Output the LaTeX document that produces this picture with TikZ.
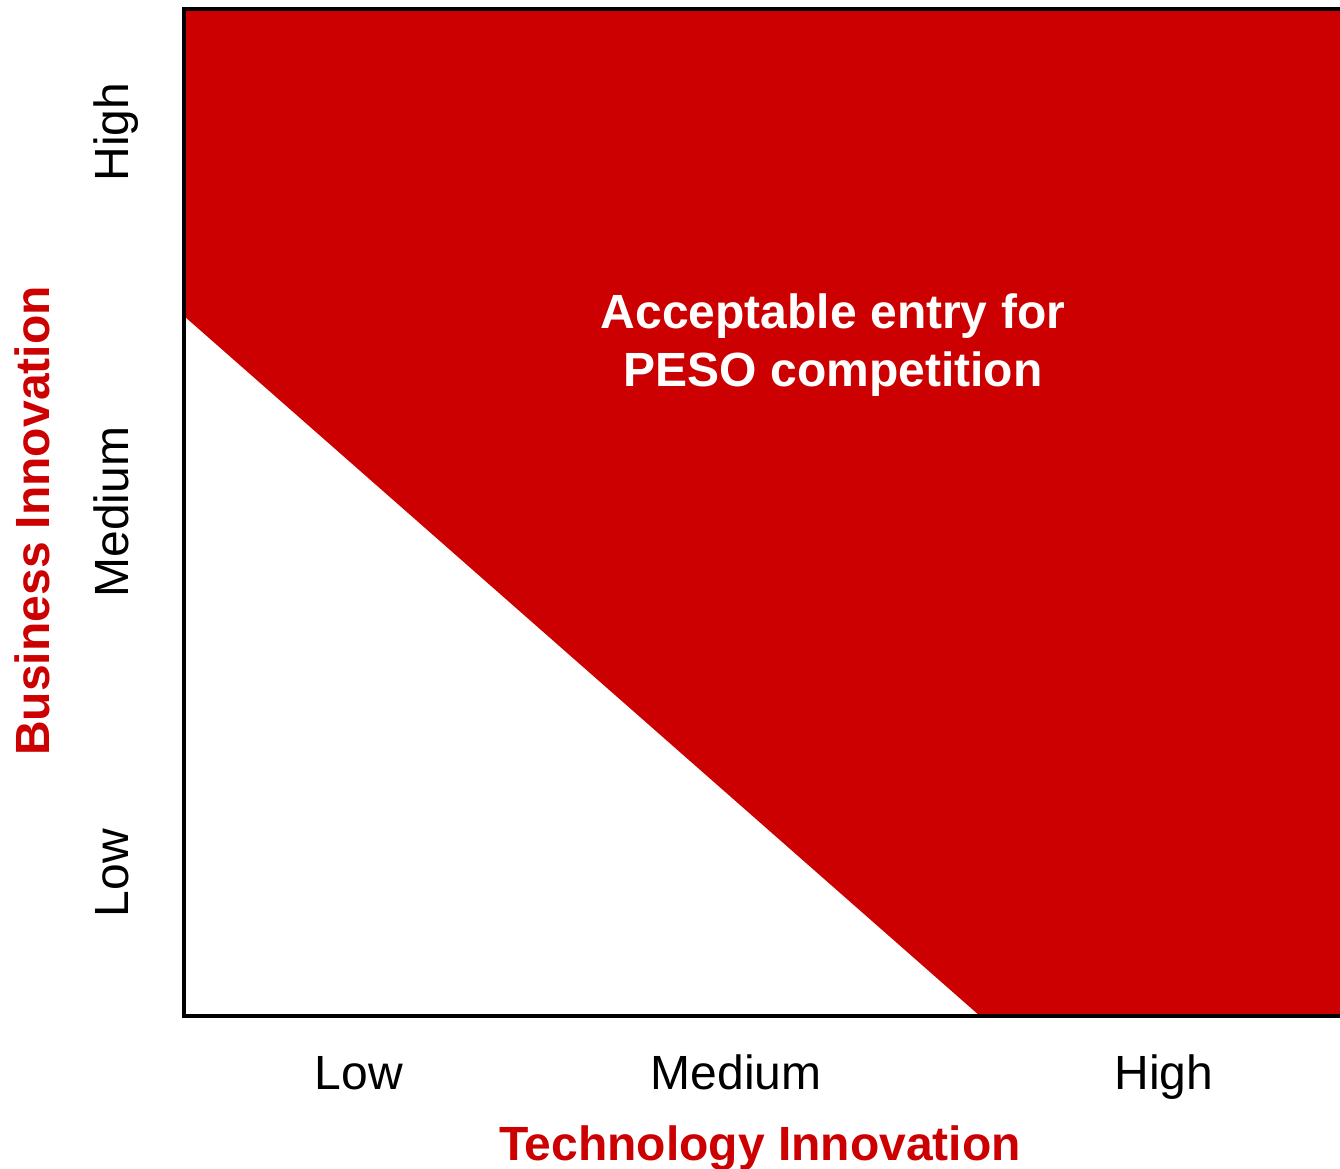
\documentclass[tikz,border=0pt]{standalone}
\usepackage{fontspec}
\setmainfont{Liberation Sans}
\definecolor{pesored}{HTML}{CC0000}
\begin{document}
\begin{tikzpicture}[x=1pt,y=-1pt,
  tick/.style={font=\fontsize{48}{56}\selectfont, inner sep=0pt, anchor=base},
  axistitle/.style={font=\fontsize{48}{56}\selectfont\bfseries, text=pesored, inner sep=0pt, anchor=base},
  zonelabel/.style={font=\fontsize{48}{58}\selectfont\bfseries, text=white, align=center, inner sep=0pt},
  frameline/.style={line width=4.8pt, black}]
\useasboundingbox (0,0) rectangle (1340,1168);

% acceptable region above the diagonal
\fill[pesored] (184,9) -- (1340,9) -- (1340,1016) -- (980,1016) -- (184,316) -- cycle;

% frame: top, left and bottom edges
\draw[frameline] (1340,9) -- (184,9) -- (184,1016) -- (1340,1016);

\node[zonelabel] (zone) at (833,345) {Acceptable entry for\\PESO competition};

% horizontal axis
\node[tick] (xlow) at (359,1089) {Low};
\node[tick] (xmed) at (736,1089) {Medium};
\node[tick] (xhigh) at (1164,1089) {High};
\node[axistitle] (xtitle) at (760,1160) {Technology Innovation};

% vertical axis
\node[tick, rotate=90] (ylow) at (128,873) {Low};
\node[tick, rotate=90] (ymed) at (128,512) {Medium};
\node[tick, rotate=90] (yhigh) at (128,132) {High};
\node[axistitle, rotate=90] (ytitle) at (49,521) {Business Innovation};
\end{tikzpicture}
\end{document}
